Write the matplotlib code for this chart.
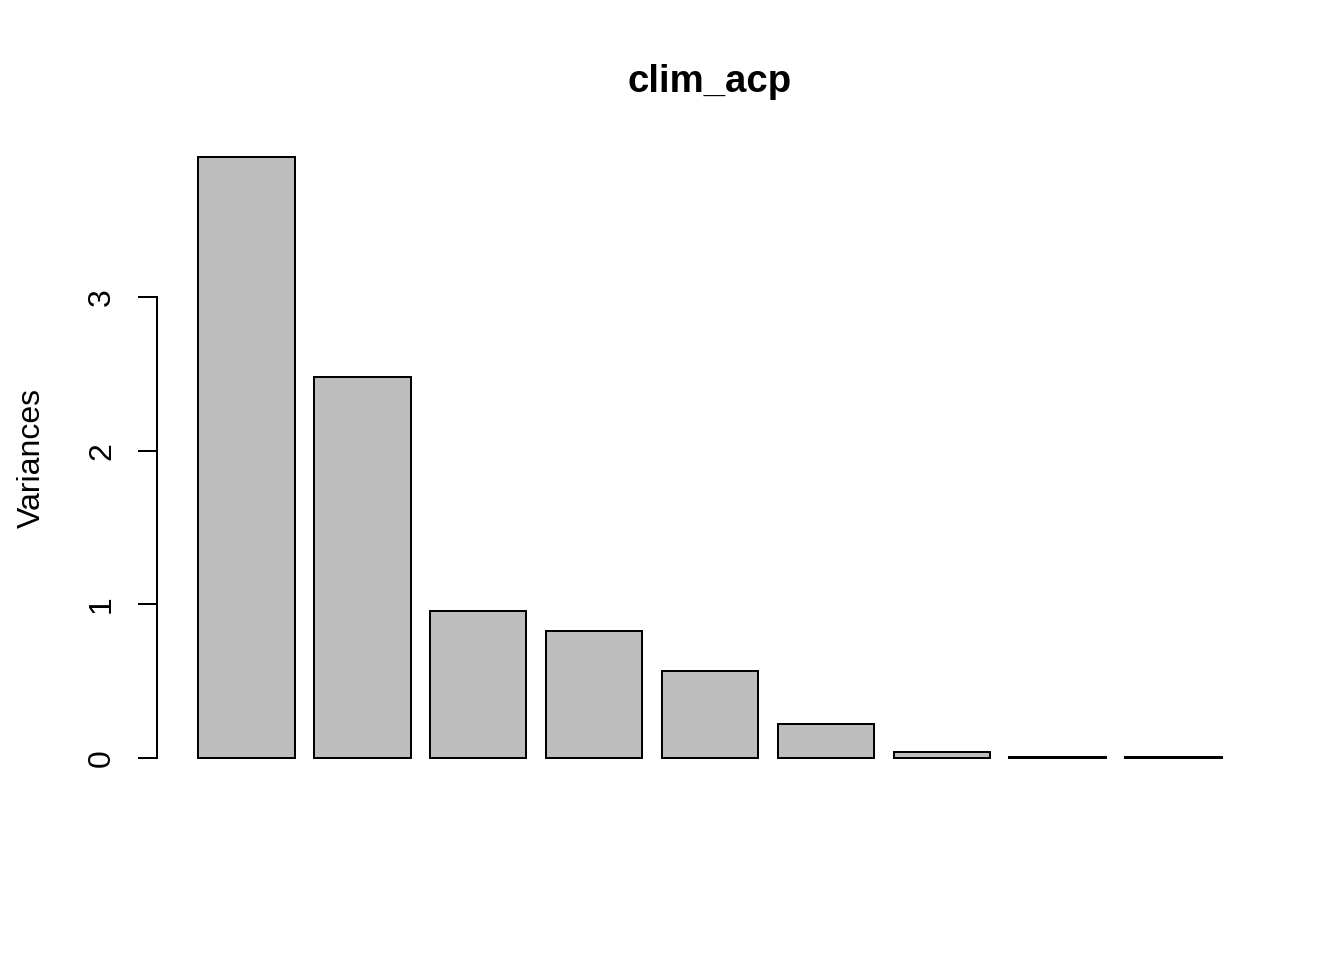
import numpy as np
import matplotlib
matplotlib.use('Agg')
from matplotlib import pyplot as plt

plt.rcParams['font.family'] = ['Liberation Sans', 'DejaVu Sans']

# Données (variances des composantes)
components = ['Comp.1', 'Comp.2', 'Comp.3', 'Comp.4', 'Comp.5',
              'Comp.6', 'Comp.7', 'Comp.8', 'Comp.9']
variances = [3.91, 2.48, 0.956, 0.826, 0.566, 0.221, 0.039, 0.008, 0.006]
y_ticks = [0, 1, 2, 3]

fig = plt.figure(figsize=(7, 5), dpi=192)
ax = fig.add_axes([157 / 1344, 1 - 782 / 960, (1263 - 157) / 1344, (782 - 133) / 960])

# Positions comme barplot() de R : largeur 1, espace 0.2
x_left = 0.2 + 1.2 * np.arange(len(variances))
ax.bar(x_left, variances, width=1.0, align='edge', color='#BEBEBE',
       edgecolor='black', linewidth=0.75)

x_min, x_max = x_left[0], x_left[-1] + 1.0
pad_x = 0.04 * (x_max - x_min)
ax.set_xlim(x_min - pad_x, x_max + pad_x)
y_max = max(variances)
ax.set_ylim(-0.04 * y_max, y_max * 1.04)

for side in ['top', 'right', 'bottom']:
    ax.spines[side].set_visible(False)
ax.spines['left'].set_bounds(y_ticks[0], y_ticks[-1])
ax.spines['left'].set_linewidth(0.75)
ax.set_xticks([])
ax.set_yticks(y_ticks)
ax.set_yticklabels([str(t) for t in y_ticks], rotation=90, va='center', fontsize=12)
ax.tick_params(axis='y', length=7, width=0.75, pad=8)

ax.set_ylabel('Variances', fontsize=12, labelpad=15)
fig.text(710 / 1344, 1 - 82 / 960, 'clim_acp', ha='center', va='center',
         fontsize=14.4, fontweight='bold')

fig.savefig('out.png', dpi=192)
